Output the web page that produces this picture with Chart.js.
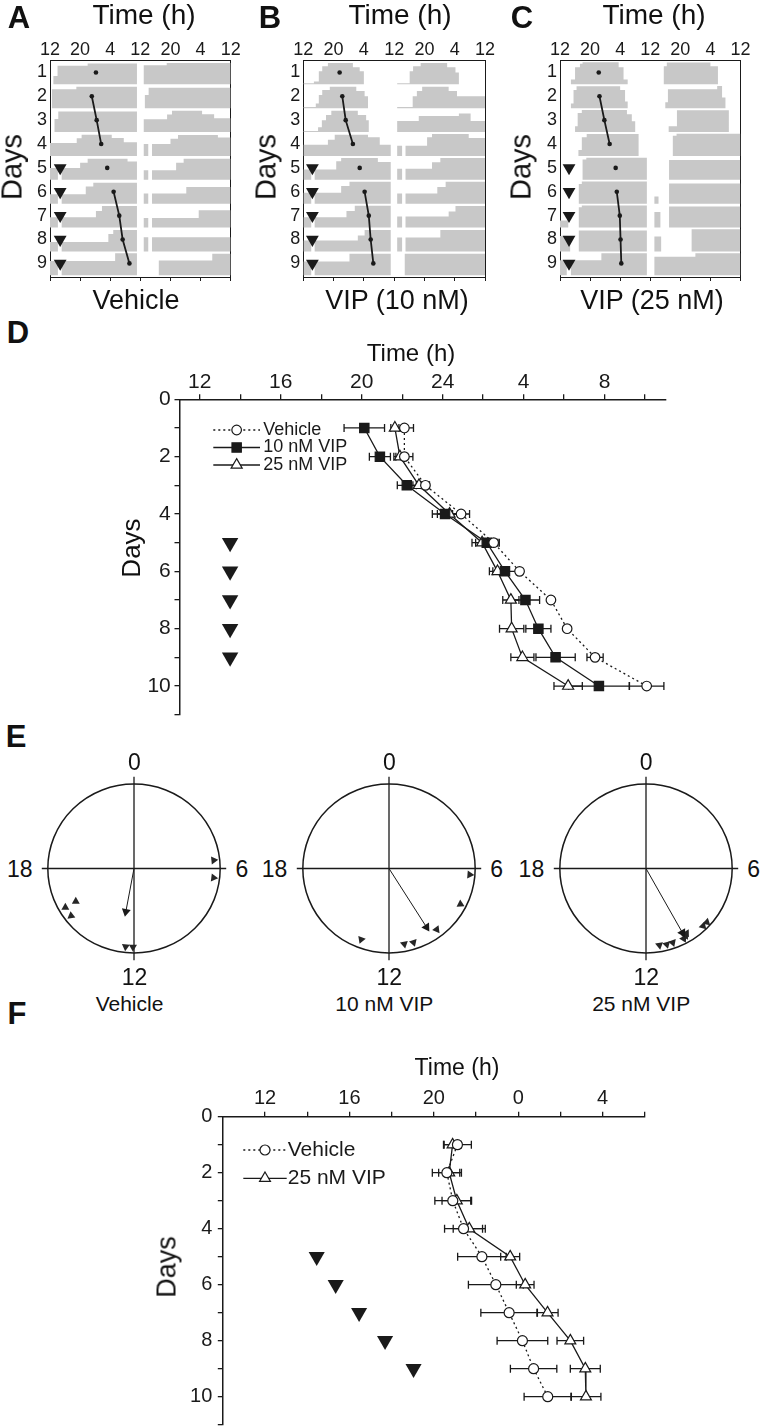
<!DOCTYPE html>
<html>
<head>
<meta charset="utf-8">
<title>VIP and phase of locomotor rhythm</title>
<script src="https://cdn.jsdelivr.net/npm/chart.js@4.4.1/dist/chart.umd.min.js"></script>
<style>
  html, body { margin: 0; padding: 0; background: #fff; }
  body { position: relative; width: 763px; height: 1426px; overflow: hidden;
         font-family: "Liberation Sans", Arial, Helvetica, sans-serif; color: #111; }
  canvas { position: absolute; }
  .t { position: absolute; line-height: 1; white-space: nowrap; transform: translate(-50%, -50%); z-index: 2; }
  .r { transform: translate(-100%, -50%); }
  .l { transform: translate(0, -50%); }
  .v { transform: translate(-50%, -50%) rotate(-90deg); }
  .p { font-weight: bold; font-size: 31px; }
</style>
</head>
<body>
<canvas id="actA" width="230" height="265" style="left:20px;top:30px"></canvas>
<canvas id="actB" width="230" height="265" style="left:273px;top:30px"></canvas>
<canvas id="actC" width="230" height="265" style="left:530px;top:30px"></canvas>
<canvas id="chartD" width="600" height="410" style="left:100px;top:330px"></canvas>
<canvas id="chartF" width="560" height="420" style="left:140px;top:1030px"></canvas>

<div class="t p" style="left:19px;top:17px">A</div>
<div class="t p" style="left:270px;top:17px">B</div>
<div class="t p" style="left:522px;top:17px">C</div>
<div class="t p" style="left:18px;top:332px">D</div>
<div class="t p" style="left:16px;top:736px">E</div>
<div class="t p" style="left:17px;top:1013px">F</div>

<div class="t" style="left:144px;top:15px;font-size:28px">Time (h)</div>
<div class="t" style="left:400px;top:15px;font-size:28px">Time (h)</div>
<div class="t" style="left:654px;top:15px;font-size:28px">Time (h)</div>
<div class="t v" style="left:12px;top:167px;font-size:29px">Days</div>
<div class="t v" style="left:266px;top:167px;font-size:29px">Days</div>
<div class="t v" style="left:521px;top:167px;font-size:29px">Days</div>
<div class="t" style="left:136px;top:300px;font-size:27px">Vehicle</div>
<div class="t" style="left:397px;top:300px;font-size:27px">VIP (10 nM)</div>
<div class="t" style="left:652px;top:300px;font-size:27px">VIP (25 nM)</div>

<div class="t" style="left:411px;top:353px;font-size:24px">Time (h)</div>
<div class="t v" style="left:131px;top:548px;font-size:26px">Days</div>

<div class="t" style="left:457px;top:1067px;font-size:23px">Time (h)</div>
<div class="t v" style="left:167px;top:1267px;font-size:27px">Days</div>

<script>
// ---------------- data ----------------
const days = [1, 2, 3, 4, 5, 6, 7, 8, 9, 10];
const injectionDays = [5, 6, 7, 8, 9];

// actograms: one step profile per day, [hour from 12 to 36, activity level 0..1]
const dayA = [
  [[12, 0], [12.9, 0.35], [14, 0.78], [22, 0.87]],
  [[12, 0], [12.5, 0.8], [19, 0.9]],
  [[12, 0], [13.2, 0.55], [14.2, 0.86]],
  [[12, 0.54], [19.1, 0.74], [20.4, 0.89], [28.4, 0.75], [31.6, 0.58]],
  [[12, 0.5], [14.1, 0], [15.1, 0.5], [20, 0.72], [22, 0.88], [32.6, 0.77]],
  [[12, 0.4], [14.1, 0], [15.1, 0.4], [21.5, 0.72], [23.5, 0.88]],
  [[12, 0.43], [14.1, 0], [15.1, 0.43], [24.2, 0.7], [25.8, 0.9]],
  [[12, 0.4], [14.1, 0], [15.1, 0.4], [27.5, 0.73], [28.8, 0.9]],
  [[12, 0.6], [14.1, 0], [15.1, 0.6], [29.3, 0.92]],
  [[12, 0], [12.9, 0.92], [16.9, 0.62], [31.1, 0.9]]
];
const dayB = [
  [[12, 0.05], [14.8, 0.12], [16.1, 0.55], [17, 0.76], [18.5, 0.9], [25.1, 0.72], [26.9, 0.55], [28, 0]],
  [[12, 0.05], [15.3, 0.2], [16.1, 0.55], [17, 0.76], [19, 0.9], [26, 0.72], [28.2, 0.5], [29.1, 0]],
  [[12, 0.05], [15.9, 0.2], [16.9, 0.5], [18, 0.72], [19.4, 0.9], [26.4, 0.72], [28.6, 0.5], [29.3, 0]],
  [[12, 0.47], [18.5, 0.68], [20.3, 0.89], [29.1, 0.78], [32.2, 0.47]],
  [[12, 0.43], [14.1, 0], [15, 0.43], [20.7, 0.78], [22, 0.92], [31.7, 0.75]],
  [[12, 0.46], [14.1, 0], [15, 0.46], [22, 0.74], [24.2, 0.92]],
  [[12, 0.43], [14.1, 0], [15, 0.43], [23.4, 0.7], [25.6, 0.92]],
  [[12, 0.46], [14.1, 0], [15, 0.46], [26.4, 0.67], [28.2, 0.9]],
  [[12, 0.58], [14.1, 0], [15, 0.58], [24.2, 0.9]],
  [[12, 0], [12.9, 0.9], [14.8, 0.56], [27.1, 0.9]]
];
const dayC = [
  [[12, 0], [14.9, 0.2], [16, 0.72], [17.3, 0.86], [18, 0.93], [27.6, 0.72], [28.9, 0.2], [30, 0]],
  [[12, 0], [14.9, 0.2], [15.6, 0.76], [16.4, 0.92], [28, 0.76], [29.3, 0.28], [30, 0]],
  [[12, 0], [16, 0.25], [16.7, 0.8], [17.8, 0.93], [29.8, 0.75], [31.1, 0.45], [32, 0]],
  [[12, 0], [16.9, 0.25], [17.8, 0.78], [19.1, 0.92], [32.9, 0]],
  [[12, 0], [18, 0.85], [19, 0.93]],
  [[12, 0], [17, 0.83], [17.8, 0.93]],
  [[12, 0.3], [14.2, 0], [17, 0.85], [17.8, 0.93]],
  [[12, 0.65], [14.7, 0], [17, 0.88]],
  [[12, 0.63], [13.8, 0], [14.9, 0.63], [23, 0.93]],
  [[12, 0], [12.9, 0.78], [24, 0.93]]
];
const bandA = [35.1, 36.9];
const bandB = [35.1, 36.8];
const bandC = [35.1, 37.1];
const onsetA = [24.2, 23.1, 24.4, 25.6, 27.2, 28.9, 30.4, 31.3, 33.1];
const onsetB = [21.6, 22.3, 23.2, 25.1, 26.9, 28.2, 29.3, 29.8, 30.5];
const onsetC = [22.3, 22.5, 23.8, 25.2, 26.8, 27.1, 27.9, 28.1, 28.3];
const injActA = [14.7, 14.7, 14.7, 14.7, 14.7];
const injActB = [14.4, 14.4, 14.4, 14.4, 14.4];
const injActC = [14.4, 14.4, 14.4, 14.4, 14.4];
const fitGroups = [[2, 3, 4], [6, 7, 8, 9]];
const actoRows = [1, 2, 3, 4, 5, 6, 7, 8, 9];
const actoDayLabels = ['1', '2', '3', '4', '5', '6', '7', '8', '9'];
const actoTickVals = [12, 20, 28, 36, 44, 52, 60];
const actoTickLabels = ['12', '20', '4', '12', '20', '4', '12'];

// D: onset time (continuous hours, 24 = midnight), mean and SEM
const vehD      = [22.11, 22.11, 23.15, 24.91, 26.52, 27.80, 29.35, 30.15, 31.53, 34.08];
const vehDErr   = [0.45, 0.42, 0.2, 0.42, 0.28, 0.1, 0.15, 0.1, 0.4, 0.85];
const vip10D    = [20.13, 20.90, 22.23, 24.12, 26.18, 27.08, 28.09, 28.73, 29.58, 31.72];
const vip10DErr = [1.0, 0.52, 0.47, 0.63, 0.55, 0.6, 0.7, 0.62, 0.97, 1.5];
const vip25D    = [21.64, 21.89, 22.83, 24.34, 25.95, 26.71, 27.37, 27.41, 27.94, 30.20];
const vip25DErr = [0.2, 0.3, 0.3, 0.6, 0.5, 0.4, 0.4, 0.6, 0.57, 0.7];
const injTimeD  = [13.5, 13.5, 13.5, 13.5, 13.5];
const dTickVals = [12, 14, 16, 18, 20, 22, 24, 26, 28, 30, 32, 34];
const dTickLabels = ['12', '', '16', '', '20', '', '24', '', '4', '', '8', ''];

// E: phases (h) of individual animals and mean vector
const eVehPhase   = [5.6, 6.45, 16.0, 16.0, 15.5, 12.05, 12.4];
const eVehRad     = [0.93, 0.93, 0.78, 0.92, 0.92, 0.93, 0.93];
const eVip10Phase = [6.3, 7.8, 9.5, 10.8, 11.25, 13.4];
const eVip10Rad   = [0.94, 0.93, 0.91, 0.92, 0.91, 0.9];
const eVip25Phase = [8.8, 9.05, 9.9, 10.0, 10.15, 10.7, 11.0, 11.35];
const eVip25Rad   = [0.95, 0.95, 0.9, 0.92, 0.94, 0.93, 0.93, 0.92];
const eMeanPhase  = [12.7, 9.86, 10.06];
const eMeanLen    = [0.52, 0.82, 0.87];
const eCaptions   = ['Vehicle', '10 nM VIP', '25 nM VIP'];
const eHourLabels = ['0', '6', '12', '18'];

// F
const vehF      = [21.12, 20.62, 20.90, 21.41, 22.28, 22.94, 23.57, 24.20, 24.73, 25.40];
const vehFErr   = [0.66, 0.69, 0.85, 0.9, 1.15, 1.3, 1.34, 1.2, 1.1, 1.12];
const vip25F    = [20.89, 20.73, 21.09, 21.68, 23.62, 24.33, 25.39, 26.47, 27.18, 27.21];
const vip25FErr = [0.4, 0.5, 0.7, 0.76, 0.45, 0.42, 0.5, 0.63, 0.71, 0.71];
const injTimeF  = [14.45, 15.35, 16.46, 17.69, 19.04];
const fTickVals = [12, 14, 16, 18, 20, 22, 24, 26, 28, 30];
const fTickLabels = ['12', '', '16', '', '20', '', '0', '', '4', ''];

const dayTickVals = [0, 1, 2, 3, 4, 5, 6, 7, 8, 9, 10, 11];
const dayTickLabels = ['0', '', '2', '', '4', '', '6', '', '8', '', '10', ''];

// ---------------- setup ----------------
const INK = '#1a1a1a';
const GRAY = '#c8c8c8';
const FONT = '"Liberation Sans", Arial, Helvetica, sans-serif';

Chart.defaults.font.family = FONT;
Chart.defaults.color = INK;
Chart.defaults.animation = false;
Chart.defaults.responsive = false;
Chart.defaults.events = [];
Chart.defaults.plugins.legend.display = false;
Chart.defaults.plugins.tooltip.enabled = false;

function fixed(size) {
  return scale => { if (scale.isHorizontal()) scale.height = size; else scale.width = size; };
}
function setTicks(vals) {
  return scale => { scale.ticks = vals.map(v => ({value: v})); };
}

// horizontal error bars drawn behind the markers
const errorBars = {
  id: 'errorBars',
  beforeDatasetsDraw(chart) {
    const ctx = chart.ctx;
    chart.data.datasets.forEach((ds, i) => {
      if (!ds.errorX) return;
      const meta = chart.getDatasetMeta(i);
      const xs = chart.scales[meta.xAxisID], ys = chart.scales[meta.yAxisID];
      ctx.save();
      ctx.strokeStyle = INK;
      ctx.lineWidth = 1.3;
      ds.data.forEach((p, j) => {
        const x0 = xs.getPixelForValue(p.x - ds.errorX[j]);
        const x1 = xs.getPixelForValue(p.x + ds.errorX[j]);
        const y = ys.getPixelForValue(p.y);
        ctx.beginPath();
        ctx.moveTo(x0, y); ctx.lineTo(x1, y);
        ctx.moveTo(x0, y - 4); ctx.lineTo(x0, y + 4);
        ctx.moveTo(x1, y - 4); ctx.lineTo(x1, y + 4);
        ctx.stroke();
      });
      ctx.restore();
    });
  }
};

// legend with a line segment and the marker in its middle
const lineLegend = {
  id: 'lineLegend',
  afterDraw(chart, args, o) {
    const ctx = chart.ctx;
    let y = o.y;
    ctx.save();
    chart.data.datasets.forEach(ds => {
      if (!ds.label) return;
      ctx.strokeStyle = ds.borderColor;
      ctx.lineWidth = ds.borderWidth;
      ctx.setLineDash(ds.borderDash || []);
      ctx.beginPath();
      ctx.moveTo(o.x, y); ctx.lineTo(o.x + o.lineLen, y);
      ctx.stroke();
      ctx.setLineDash([]);
      ctx.fillStyle = ds.pointBackgroundColor;
      ctx.strokeStyle = ds.pointBorderColor;
      ctx.lineWidth = ds.pointBorderWidth;
      Chart.helpers.drawPoint(ctx, {pointStyle: ds.pointStyle, radius: ds.pointRadius, rotation: 0,
        borderWidth: ds.pointBorderWidth}, o.x + o.lineLen / 2, y);
      ctx.fillStyle = INK;
      ctx.font = o.font;
      ctx.textAlign = 'left';
      ctx.textBaseline = 'middle';
      ctx.fillText(ds.label, o.x + o.lineLen + o.gap, y);
      y += o.dy;
    });
    ctx.restore();
  }
};

// ---------------- actograms (A, B, C) ----------------
function levelAt(profile, h) {
  let lv = 0;
  profile.forEach(([t, l]) => { if (t <= h) lv = l; });
  return lv;
}
function actoRow(dayL, dayR, band, row) {
  const xs = new Set([12, 36, 60, band[0], band[1]]);
  dayL.forEach(([t]) => xs.add(t));
  dayR.forEach(([t]) => xs.add(t + 24));
  return [...xs].sort((a, b) => a - b).map(x => {
    let lv = x < 36 ? levelAt(dayL, x) : levelAt(dayR, x - 24);
    if (x >= band[0] && x < band[1]) lv = 0;
    return {x, y: row + 0.5 - lv};
  });
}

function makeActogram(id, profiles, band, onset, injX, m) {
  const datasets = [];
  fitGroups.forEach(g => datasets.push({
    data: g.map(d => ({x: onset[d - 1], y: d})),
    borderColor: INK, borderWidth: 1.8, pointRadius: 0
  }));
  datasets.push({
    data: actoRows.map(d => ({x: onset[d - 1], y: d})),
    showLine: false, pointRadius: 2.3, pointBackgroundColor: INK, pointBorderWidth: 0
  });
  datasets.push({
    data: injectionDays.map((d, i) => ({x: injX[i], y: d})),
    showLine: false, pointStyle: 'triangle', pointRotation: 180, pointRadius: 7.4,
    pointBackgroundColor: INK, pointBorderWidth: 0
  });
  actoRows.forEach(k => datasets.push({
    data: actoRow(profiles[k - 1], profiles[k], band, k),
    stepped: true, fill: {value: k + 0.5},
    backgroundColor: GRAY, borderColor: 'rgba(0,0,0,0)', borderWidth: 0, pointRadius: 0
  }));

  const border = {display: true, color: INK, width: 1};
  const noGrid = {drawOnChartArea: false, drawTicks: false};
  new Chart(document.getElementById(id), {
    type: 'line',
    data: {datasets},
    options: {
      layout: {padding: 0},
      scales: {
        x: {type: 'linear', position: 'top', min: 12, max: 60,
            afterFit: fixed(m[1]), afterBuildTicks: setTicks(actoTickVals),
            ticks: {callback: (v, i) => actoTickLabels[i], font: {size: 18, lineHeight: 1},
                    padding: 1, maxRotation: 0, autoSkip: false},
            border, grid: noGrid},
        xB: {type: 'linear', axis: 'x', position: 'bottom', min: 12, max: 60,
             afterFit: fixed(m[3]), afterBuildTicks: setTicks(actoTickVals),
             ticks: {display: false}, border,
             grid: {drawOnChartArea: false, drawTicks: true, tickLength: 4, color: INK}},
        y: {type: 'linear', position: 'left', reverse: true, min: 0.5, max: 9.57,
            afterFit: fixed(m[0]), afterBuildTicks: setTicks(actoRows),
            ticks: {callback: (v, i) => actoDayLabels[i], font: {size: 18, lineHeight: 1},
                    padding: 3, autoSkip: false},
            border, grid: noGrid},
        yR: {type: 'linear', axis: 'y', position: 'right', reverse: true, min: 0.5, max: 9.57,
             afterFit: fixed(m[2]), ticks: {display: false}, border, grid: noGrid}
      }
    }
  });
}

makeActogram('actA', dayA, bandA, onsetA, injActA, [30, 30.5, 19.3, 18]);
makeActogram('actB', dayB, bandB, onsetB, injActB, [30.3, 30.5, 18, 18]);
makeActogram('actC', dayC, bandC, onsetC, injActC, [30, 30.5, 19.5, 18]);

// ---------------- D and F ----------------
function series(label, xs, errs, style, radius, fillColor, dash) {
  return {
    label, data: days.map((d, i) => ({x: xs[i], y: d})), errorX: errs,
    borderColor: INK, borderWidth: 1.3, borderDash: dash,
    pointStyle: style, pointRadius: radius, pointBackgroundColor: fillColor,
    pointBorderColor: INK, pointBorderWidth: 1.2
  };
}
function injections(xs, radius) {
  return {
    data: injectionDays.map((d, i) => ({x: xs[i], y: d})), showLine: false,
    pointStyle: 'triangle', pointRotation: 180, pointRadius: radius,
    pointBackgroundColor: INK, pointBorderWidth: 0
  };
}
function timeAxes(xMin, xMax, tickVals, tickLabels, size, m, pad) {
  const border = {display: true, color: INK, width: 1.5};
  const grid = {drawOnChartArea: false, drawTicks: true, tickLength: 5, color: INK, lineWidth: 1.3};
  return {
    x: {type: 'linear', position: 'top', min: xMin, max: xMax,
        afterFit: fixed(m[1]), afterBuildTicks: setTicks(tickVals),
        ticks: {callback: (v, i) => tickLabels[i], font: {size, lineHeight: 1},
                padding: pad[1], maxRotation: 0, autoSkip: false},
        border, grid},
    y: {type: 'linear', position: 'left', reverse: true, min: 0, max: 11,
        afterFit: fixed(m[0]), afterBuildTicks: setTicks(dayTickVals),
        ticks: {callback: (v, i) => dayTickLabels[i], font: {size, lineHeight: 1},
                padding: pad[0], autoSkip: false},
        border, grid}
  };
}

new Chart(document.getElementById('chartD'), {
  type: 'line',
  data: {datasets: [
    series('Vehicle', vehD, vehDErr, 'circle', 4.8, '#fff', [2, 3]),
    series('10 nM VIP', vip10D, vip10DErr, 'rect', 6.6, INK, []),
    series('25 nM VIP', vip25D, vip25DErr, 'triangle', 6.4, '#fff', []),
    injections(injTimeD, 9.5)
  ]},
  options: {
    layout: {padding: {left: 0, top: 0, right: 34.7, bottom: 25.3}},
    scales: timeAxes(11, 35, dTickVals, dTickLabels, 21, [79.5, 69.3], [3.7, 1.1]),
    plugins: {lineLegend: {x: 113.3, y: 100, dy: 17.5, lineLen: 46.7, gap: 3.3, font: '18px ' + FONT}}
  },
  plugins: [errorBars, lineLegend]
});

new Chart(document.getElementById('chartF'), {
  type: 'line',
  data: {datasets: [
    series('Vehicle', vehF, vehFErr, 'circle', 5, '#fff', [2, 3]),
    series('25 nM VIP', vip25F, vip25FErr, 'triangle', 6.3, '#fff', []),
    injections(injTimeF, 9.3)
  ]},
  options: {
    layout: {padding: {left: 0, top: 0, right: 55.2, bottom: 25.3}},
    scales: timeAxes(10, 30, fTickVals, fTickLabels, 20, [82.8, 86.7], [5.5, 3.4]),
    plugins: {lineLegend: {x: 103.3, y: 120, dy: 28.3, lineLen: 43.4, gap: 1, font: '21px ' + FONT}}
  },
  plugins: [errorBars, lineLegend]
});

// ---------------- E: phase clocks ----------------
const clockCenters = [134.5, 389.3, 646.2];
const clockCY = 868.5, RX = 89, RY = 84.5, SPAN = 1.1;

const clockFace = {
  id: 'clockFace',
  beforeDatasetsDraw(chart, args, o) {
    const {ctx, scales: {x, y}} = chart;
    const cx = x.getPixelForValue(0), cy = y.getPixelForValue(0);
    ctx.save();
    ctx.strokeStyle = INK;
    ctx.lineWidth = 1.5;
    ctx.beginPath();
    ctx.ellipse(cx, cy, x.getPixelForValue(1) - cx, cy - y.getPixelForValue(1), 0, 0, Math.PI * 2);
    ctx.stroke();
    ctx.lineWidth = 1.3;
    ctx.beginPath();
    ctx.moveTo(x.getPixelForValue(-o.h), cy); ctx.lineTo(x.getPixelForValue(o.h), cy);
    ctx.moveTo(cx, y.getPixelForValue(o.v)); ctx.lineTo(cx, y.getPixelForValue(-o.v));
    ctx.stroke();
    ctx.restore();
  }
};

function polar(phase, r) {
  const a = phase / 24 * 2 * Math.PI;
  return {x: r * Math.sin(a), y: r * Math.cos(a)};
}

function addText(text, left, top, size, cls) {
  const d = document.createElement('div');
  d.className = 't' + (cls ? ' ' + cls : '');
  d.textContent = text;
  d.style.left = left + 'px';
  d.style.top = top + 'px';
  d.style.fontSize = size + 'px';
  document.body.appendChild(d);
}

function makeClock(i, phases, radii) {
  const cx = clockCenters[i];
  const left = Math.floor(cx - 100), top = 770;
  const cv = document.createElement('canvas');
  cv.width = 200; cv.height = 200;
  cv.style.left = left + 'px'; cv.style.top = top + 'px';
  document.body.appendChild(cv);
  const padL = cx - SPAN * RX - left, padT = clockCY - SPAN * RY - top;
  new Chart(cv, {
    type: 'line',
    data: {datasets: [
      {data: [{x: 0, y: 0}, polar(eMeanPhase[i], eMeanLen[i])],
       borderColor: INK, borderWidth: 1, pointRadius: [0, 5.2], pointStyle: 'triangle',
       pointRotation: eMeanPhase[i] * 15, pointBackgroundColor: INK, pointBorderWidth: 0},
      {data: phases.map((p, j) => polar(p, radii[j])), showLine: false,
       pointStyle: 'triangle', pointRotation: phases.map(p => p * 15), pointRadius: 4.6,
       pointBackgroundColor: '#262626', pointBorderWidth: 0}
    ]},
    options: {
      layout: {padding: {left: padL, top: padT, right: 200 - padL - 2 * SPAN * RX,
                         bottom: 200 - padT - 2 * SPAN * RY}},
      scales: {
        x: {type: 'linear', display: false, min: -SPAN, max: SPAN},
        y: {type: 'linear', display: false, min: -SPAN, max: SPAN}
      },
      plugins: {clockFace: {h: 1.07, v: 1.085}}
    },
    plugins: [clockFace]
  });
  addText(eHourLabels[0], cx, 762, 23);
  addText(eHourLabels[1], cx + 101, clockCY, 23, 'l');
  addText(eHourLabels[2], cx, 977, 23);
  addText(eHourLabels[3], cx - 102, clockCY, 23, 'r');
  addText(eCaptions[i], cx - 5, 1003, 21);
}

makeClock(0, eVehPhase, eVehRad);
makeClock(1, eVip10Phase, eVip10Rad);
makeClock(2, eVip25Phase, eVip25Rad);
</script>
</body>
</html>
